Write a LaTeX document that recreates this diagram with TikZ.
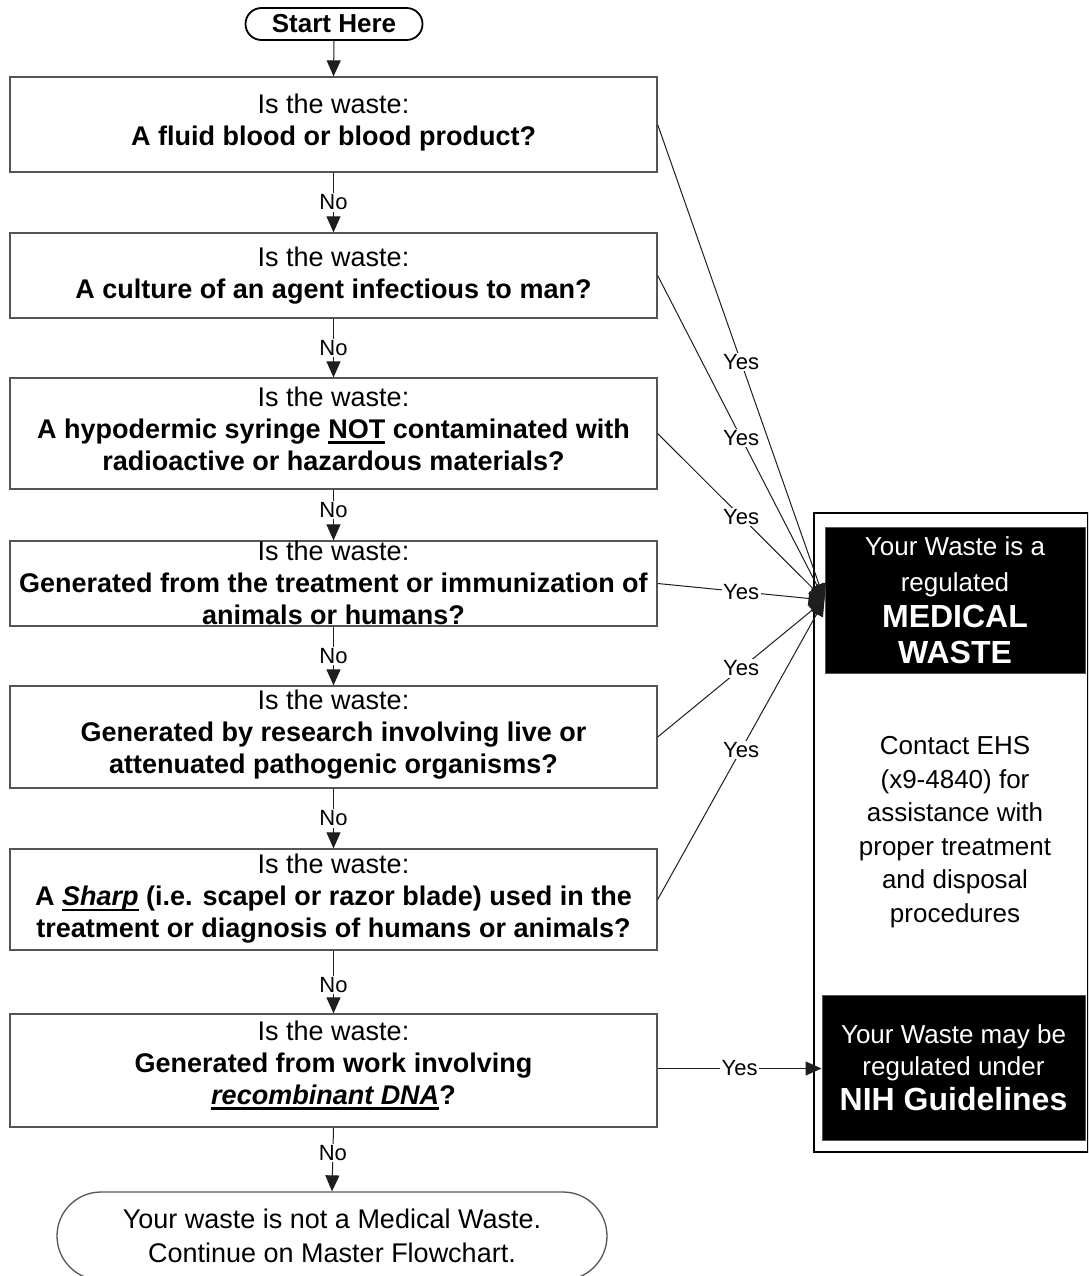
\documentclass[tikz,border=0pt]{standalone}
\usepackage{fontspec}
\setmainfont{Liberation Sans}
\usetikzlibrary{arrows.meta,shapes.misc,calc}

\definecolor{boxedge}{RGB}{85,85,85}
\definecolor{flowline}{RGB}{30,30,30}

% thick underline used for the emphasised words
\newsavebox\ulbox
\newcommand\thickul[1]{\sbox\ulbox{#1}\rlap{\rule[-5pt]{\wd\ulbox}{2.3pt}}\usebox\ulbox}

\begin{document}
\begin{tikzpicture}[x=1pt,y=-1pt,
  qbox/.style={draw=boxedge, line width=1.3pt, minimum width=647pt, inner sep=0pt},
  qtext/.style={align=center, inner sep=0pt, font=\fontsize{27}{32}\selectfont},
  flow/.style={draw=flowline, line width=1pt, -{Triangle[length=16pt,width=14pt]}},
  lbl/.style={font=\fontsize{22}{24}\selectfont, fill=white, inner sep=1.5pt},
  terminal/.style={rounded rectangle, draw=black, line width=1.8pt, inner sep=0pt},
  endterm/.style={rounded rectangle, draw=boxedge, line width=1.3pt, inner sep=0pt,
    align=center, font=\fontsize{27}{34}\selectfont},
  darkbox/.style={fill=black, draw=boxedge, line width=1pt, text=white, align=center, inner sep=0pt},
  panel/.style={draw=black, line width=2pt, inner sep=0pt}
]
\useasboundingbox (0,0) rectangle (1088,1276);
\fill[white] (0,0) rectangle (1088,1276);
\clip (0,0) rectangle (1088,1276);

% ---- result panel on the right ----
\node[panel, minimum width=274pt, minimum height=639pt] (panel) at (951,832.5) {};
\node[darkbox, minimum width=260pt, minimum height=146pt,
      font=\fontsize{26}{36}\selectfont] (mw) at (955,600)
  {Your Waste is a\\regulated\\{\fontsize{32}{36}\selectfont\bfseries MEDICAL}\\{\fontsize{32}{36}\selectfont\bfseries WASTE}};
\node[align=center, inner sep=0pt, font=\fontsize{26}{33.5}\selectfont] (info) at (955,832)
  {Contact EHS\\(x9-4840) for\\assistance with\\proper treatment\\and disposal\\procedures};
\node[darkbox, minimum width=263pt, minimum height=145pt,
      font=\fontsize{26}{32}\selectfont] (nih) at (953.5,1067.5)
  {Your Waste may be\\regulated under\\[3pt]{\fontsize{32}{36}\selectfont\bfseries NIH Guidelines}};

% ---- start ----
\node[terminal, minimum width=177pt, minimum height=32pt,
      font=\fontsize{26}{30}\selectfont\bfseries] (start) at (334,24) {Start Here};

% ---- question boxes ----
\node[qbox, minimum height=95pt] (b1) at (333.5,124.5) {};
\node[qtext] (t1) at (333.5,123) {Is the waste:\\\textbf{A fluid blood or blood product?}};

\node[qbox, minimum height=85pt] (b2) at (333.5,275.5) {};
\node[qtext] (t2) at (333.5,276) {Is the waste:\\\textbf{A culture of an agent infectious to man?}};

\node[qbox, minimum height=111pt] (b3) at (333.5,433.5) {};
\node[qtext] (t3) at (333.5,429)
  {Is the waste:\\\textbf{A hypodermic syringe \thickul{NOT} contaminated with}\\\textbf{radioactive or hazardous materials?}};

\node[qbox, minimum height=85pt] (b4) at (333.5,583.5) {};
\node[qtext] (t4) at (333.5,583)
  {Is the waste:\\\textbf{Generated from the treatment or immunization of}\\\textbf{animals or humans?}};

\node[qbox, minimum height=102pt] (b5) at (333.5,737) {};
\node[qtext] (t5) at (333.5,735)
  {Is the waste:\\\textbf{Generated by research involving live or}\\\textbf{attenuated pathogenic organisms?}};

\node[qbox, minimum height=101pt] (b6) at (333.5,899.5) {};
\node[qtext] (t6) at (333.5,899)
  {Is the waste:\\\textbf{A \thickul{\textit{Sharp}} (i.e. scapel or razor blade) used in the}\\\textbf{treatment or diagnosis of humans or animals?}};

\node[qbox, minimum height=113pt] (b7) at (333.5,1070.5) {};
\node[qtext] (t7) at (333.5,1065.5)
  {Is the waste:\\\textbf{Generated from work involving}\\\textbf{\thickul{\textit{recombinant DNA}}?}};

% ---- final terminal ----
\node[endterm, minimum width=550pt, minimum height=88pt] (done) at (332,1236)
  {Your waste is not a Medical Waste.\\Continue on Master Flowchart.};

% ---- "No" flow down the column ----
\draw[flow] (start.south) -- (b1.north);
\draw[flow] (b1.south) -- node[lbl]{No} (b2.north);
\draw[flow] (b2.south) -- node[lbl]{No} (b3.north);
\draw[flow] (b3.south) -- node[lbl, pos=0.4]{No} (b4.north);
\draw[flow] (b4.south) -- node[lbl]{No} (b5.north);
\draw[flow] (b5.south) -- node[lbl]{No} (b6.north);
\draw[flow] (b6.south) -- node[lbl, pos=0.55]{No} (b7.north);
\draw[flow] (b7.south) -- node[lbl, pos=0.4]{No} (done.north);

% ---- "Yes" branches ----
\draw[flow] (b1.east) -- node[lbl]{Yes} (mw.west);
\draw[flow] (b2.east) -- node[lbl]{Yes} (mw.west);
\draw[flow] (b3.east) -- node[lbl]{Yes} (mw.west);
\draw[flow] (b4.east) -- node[lbl]{Yes} (mw.west);
\draw[flow] (b5.east) -- node[lbl]{Yes} (mw.west);
\draw[flow] (b6.east) -- node[lbl]{Yes} (mw.west);
\draw[flow] ([yshift=2pt]b7.east) -- node[lbl]{Yes} ([yshift=2pt]b7.east -| nih.west);
\end{tikzpicture}
\end{document}
